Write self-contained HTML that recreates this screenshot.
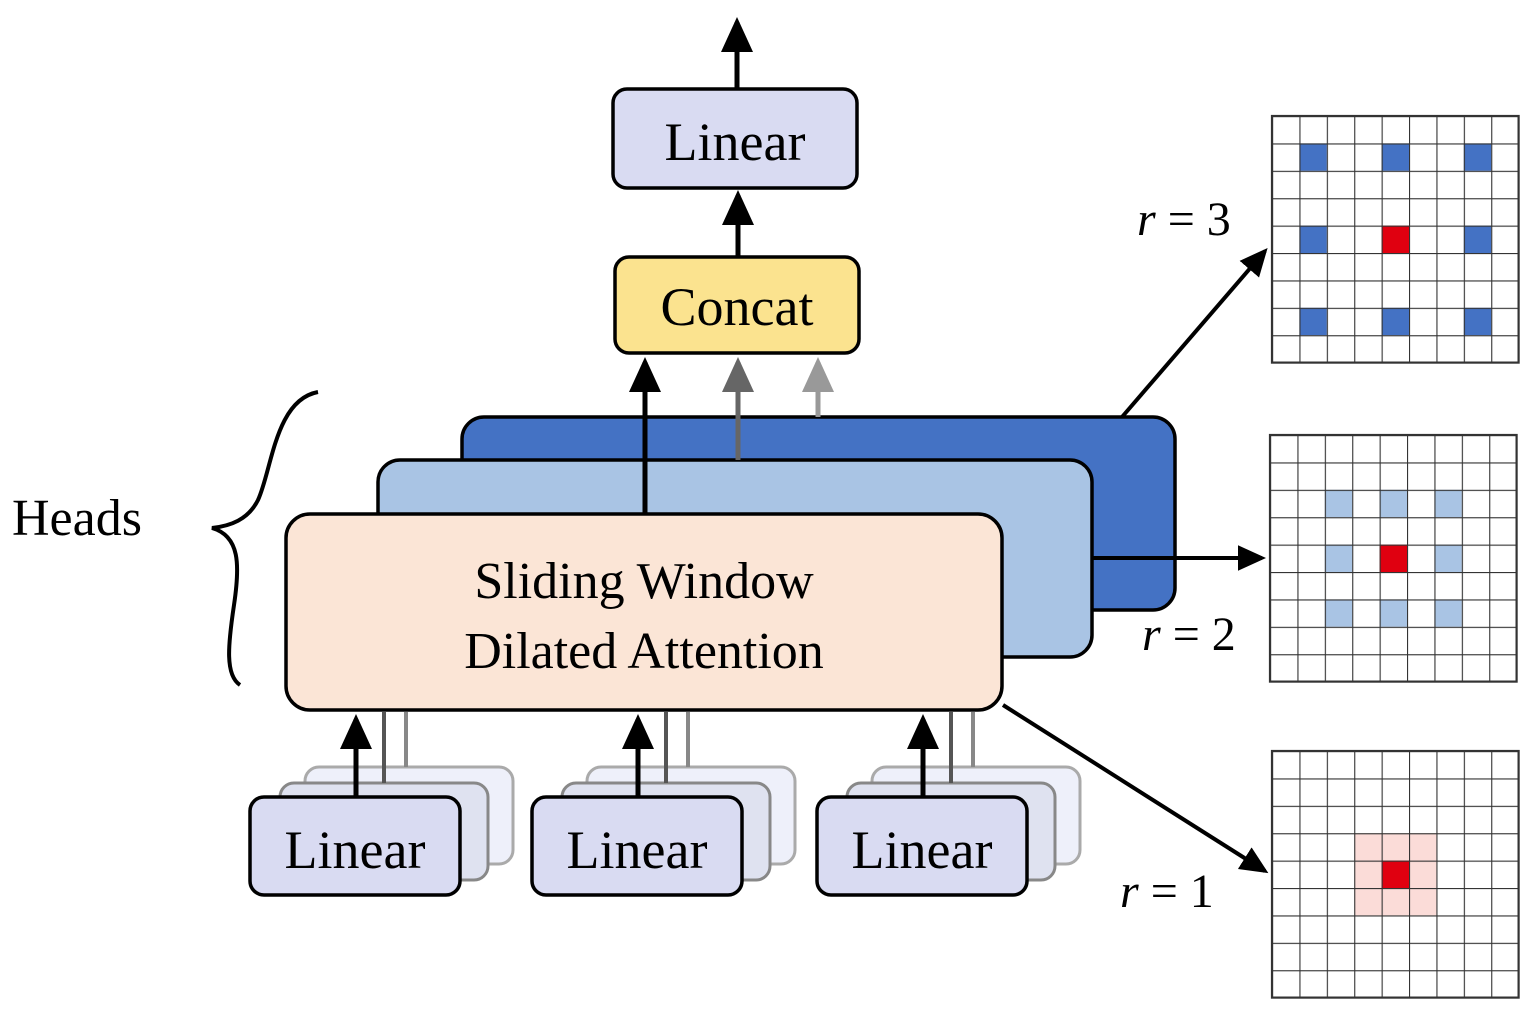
<!DOCTYPE html>
<html><head><meta charset="utf-8"><style>html,body{margin:0;padding:0;background:#fff}svg{display:block}</style></head>
<body>
<svg width="1535" height="1012" viewBox="0 0 1535 1012" xmlns="http://www.w3.org/2000/svg" font-family="Liberation Serif, serif">
<defs>
<pattern id="gp" width="27.4" height="27.4" patternUnits="userSpaceOnUse"><path d="M0 0H27.4M0 0V27.4" stroke="#333" stroke-width="2.2" fill="none"/></pattern>
<marker id="ah" markerWidth="8" markerHeight="8" refX="6" refY="4" orient="auto" markerUnits="strokeWidth"><path d="M0,0.8 L7,4 L0,7.2 z" fill="#000"/></marker>
<marker id="ahg" markerWidth="8" markerHeight="8" refX="6" refY="4" orient="auto" markerUnits="strokeWidth"><path d="M0,0.8 L7,4 L0,7.2 z" fill="#666"/></marker>
<marker id="ahl" markerWidth="8" markerHeight="8" refX="6" refY="4" orient="auto" markerUnits="strokeWidth"><path d="M0,0.8 L7,4 L0,7.2 z" fill="#999"/></marker>
</defs>

<!-- top arrow and Linear -->
<line x1="737" y1="89" x2="737" y2="22" stroke="#000" stroke-width="5" marker-end="url(#ah)"/>
<rect x="613" y="89" width="244" height="99" rx="14" fill="#d9dbf2" stroke="#000" stroke-width="3.5"/>
<text x="735" y="160" font-size="54" text-anchor="middle">Linear</text>
<line x1="738" y1="257" x2="738" y2="195" stroke="#000" stroke-width="5" marker-end="url(#ah)"/>
<rect x="615" y="257" width="244" height="96" rx="14" fill="#fbe38f" stroke="#000" stroke-width="3.5"/>
<text x="737" y="325" font-size="54" text-anchor="middle">Concat</text>

<!-- head blocks -->
<rect x="462" y="417" width="713" height="193" rx="22" fill="#4472c4" stroke="#000" stroke-width="3.5"/>
<rect x="378" y="460" width="714" height="197" rx="22" fill="#a9c4e4" stroke="#000" stroke-width="3.5"/>
<rect x="286" y="514" width="716" height="196" rx="24" fill="#fbe5d6" stroke="#000" stroke-width="3.5"/>
<text x="644" y="598" font-size="52" text-anchor="middle">Sliding  Window</text>
<text x="644" y="668" font-size="52" text-anchor="middle">Dilated  Attention</text>

<line x1="818" y1="417" x2="818" y2="362" stroke="#999" stroke-width="5" marker-end="url(#ahl)"/>
<line x1="738" y1="460" x2="738" y2="362" stroke="#666" stroke-width="5" marker-end="url(#ahg)"/>
<line x1="645" y1="514" x2="645" y2="362" stroke="#000" stroke-width="5" marker-end="url(#ah)"/>

<!-- Heads brace -->
<text x="12" y="535" font-size="52">Heads</text>
<path d="M318,392 C275,400 272,470 258,500 C248,520 230,526 212,528 C240,536 240,565 234,605 C228,645 225,675 240,685" fill="none" stroke="#000" stroke-width="4"/>

<!-- input linears -->
<g id="L1">
<rect x="305" y="767" width="208" height="97" rx="14" fill="#eef0fa" stroke="#aaa" stroke-width="3"/>
<rect x="280" y="783" width="208" height="97" rx="14" fill="#dfe2f0" stroke="#888" stroke-width="3"/>
<line x1="384" y1="712" x2="384" y2="783" stroke="#555" stroke-width="4"/>
<line x1="406" y1="712" x2="406" y2="767" stroke="#888" stroke-width="4"/>
<rect x="250" y="797" width="210" height="98" rx="14" fill="#d9dbf2" stroke="#000" stroke-width="3.5"/>
<text x="355" y="868" font-size="54" text-anchor="middle">Linear</text>
<line x1="356" y1="797" x2="356" y2="719" stroke="#000" stroke-width="5" marker-end="url(#ah)"/>
</g>
<use href="#L1" x="282" y="0"/>
<use href="#L1" x="567" y="0"/>

<!-- arrows to grids -->
<line x1="1122" y1="417" x2="1265" y2="251" stroke="#000" stroke-width="4" marker-end="url(#ah)"/>
<line x1="1092" y1="558" x2="1262" y2="558" stroke="#000" stroke-width="4" marker-end="url(#ah)"/>
<line x1="1003" y1="705" x2="1265" y2="871" stroke="#000" stroke-width="4" marker-end="url(#ah)"/>
<text x="1137" y="235" font-size="48"><tspan font-style="italic">r</tspan> = 3</text>
<text x="1142" y="650" font-size="48"><tspan font-style="italic">r</tspan> = 2</text>
<text x="1120" y="907" font-size="48"><tspan font-style="italic">r</tspan> = 1</text>

<!-- grid r=3 -->
<g transform="translate(1272,116)">
<g fill="#4472c4">
<rect x="27.4" y="27.4" width="27.4" height="27.4"/><rect x="109.6" y="27.4" width="27.4" height="27.4"/><rect x="191.8" y="27.4" width="27.4" height="27.4"/>
<rect x="27.4" y="109.6" width="27.4" height="27.4"/><rect x="191.8" y="109.6" width="27.4" height="27.4"/>
<rect x="27.4" y="191.8" width="27.4" height="27.4"/><rect x="109.6" y="191.8" width="27.4" height="27.4"/><rect x="191.8" y="191.8" width="27.4" height="27.4"/>
</g>
<rect x="109.6" y="109.6" width="27.4" height="27.4" fill="#e00010"/>
<rect x="0" y="0" width="246.6" height="246.6" fill="url(#gp)"/>
<rect x="0" y="0" width="246.6" height="246.6" fill="none" stroke="#333" stroke-width="2.2"/>
</g>
<!-- grid r=2 -->
<g transform="translate(1270,435)">
<g fill="#a9c4e4">
<rect x="54.8" y="54.8" width="27.4" height="27.4"/><rect x="109.6" y="54.8" width="27.4" height="27.4"/><rect x="164.4" y="54.8" width="27.4" height="27.4"/>
<rect x="54.8" y="109.6" width="27.4" height="27.4"/><rect x="164.4" y="109.6" width="27.4" height="27.4"/>
<rect x="54.8" y="164.4" width="27.4" height="27.4"/><rect x="109.6" y="164.4" width="27.4" height="27.4"/><rect x="164.4" y="164.4" width="27.4" height="27.4"/>
</g>
<rect x="109.6" y="109.6" width="27.4" height="27.4" fill="#e00010"/>
<rect x="0" y="0" width="246.6" height="246.6" fill="url(#gp)"/>
<rect x="0" y="0" width="246.6" height="246.6" fill="none" stroke="#333" stroke-width="2.2"/>
</g>
<!-- grid r=1 -->
<g transform="translate(1272,751)">
<rect x="82.2" y="82.2" width="82.2" height="82.2" fill="#fbdcd8"/>
<rect x="109.6" y="109.6" width="27.4" height="27.4" fill="#e00010"/>
<rect x="0" y="0" width="246.6" height="246.6" fill="url(#gp)"/>
<rect x="0" y="0" width="246.6" height="246.6" fill="none" stroke="#333" stroke-width="2.2"/>
</g>
</svg>
</body></html>
